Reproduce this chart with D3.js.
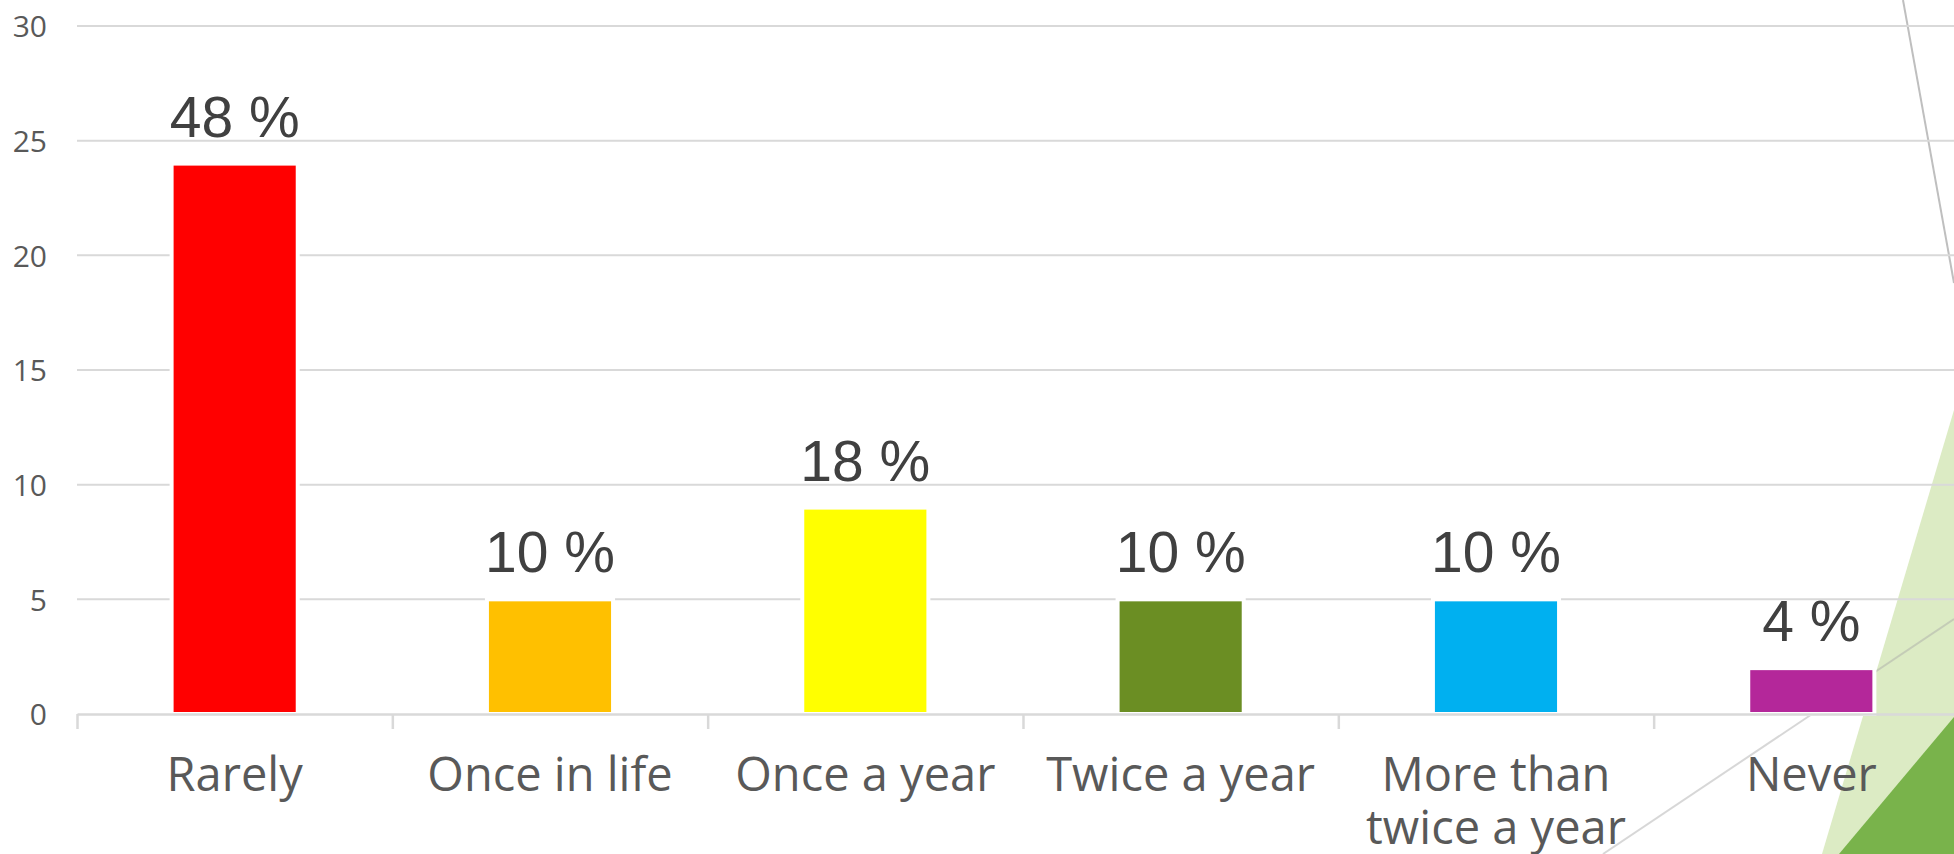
<!DOCTYPE html>
<html>
<head>
<meta charset="utf-8">
<script src="https://cdn.jsdelivr.net/npm/d3@7"></script>
<style>
  html, body { margin: 0; padding: 0; background: #ffffff; overflow: hidden; }
  svg { display: block; }
</style>
</head>
<body>
<svg id="chart" width="1954" height="854"></svg>
<script>
// ---- data ----
const categories = ["Rarely", "Once in life", "Once a year", "Twice a year", "More than twice a year", "Never"];
const categoryLabelLines = [["Rarely"], ["Once in life"], ["Once a year"], ["Twice a year"], ["More than", "twice a year"], ["Never"]];
const values = [24, 5, 9, 5, 5, 2];
const percentLabels = ["48 %", "10 %", "18 %", "10 %", "10 %", "4 %"];
const barColors = ["#ff0000", "#ffc000", "#ffff00", "#6b8e23", "#00b0f0", "#b4279a"];
const yTicks = [0, 5, 10, 15, 20, 25, 30];

// ---- layout ----
const W = 1954, H = 854;
const plotLeft = 77, step = 315.33, plotTop = 26, plotBottom = 714;
const svg = d3.select("#chart");

const x = d3.scaleBand().domain(categories)
  .range([plotLeft, plotLeft + step * categories.length])
  .paddingInner(0.6).paddingOuter(0.3);
const y = d3.scaleLinear().domain([0, 30]).range([plotBottom, plotTop]);

// ---- background decorations (slide theme) ----
const deco = svg.append("g");
deco.append("polygon").attr("points", "1954,410 1954,854 1822,854").attr("fill", "#dcebc4");
deco.append("polygon").attr("points", "1954,717 1954,854 1839,854").attr("fill", "#79b34b");
deco.append("line").attr("x1", 1603).attr("y1", 854).attr("x2", 1954).attr("y2", 619)
  .attr("stroke", "#a6a6a6").attr("stroke-opacity", 0.45).attr("stroke-width", 2);
deco.append("line").attr("x1", 1903).attr("y1", 0).attr("x2", 1954).attr("y2", 283)
  .attr("stroke", "#bfbfbf").attr("stroke-width", 2);

// ---- gridlines ----
const grid = svg.append("g");
grid.selectAll("line").data(yTicks.filter(d => d > 0)).join("line")
  .attr("x1", plotLeft).attr("x2", W + 20)
  .attr("y1", d => y(d)).attr("y2", d => y(d))
  .attr("stroke", "#d9d9d9").attr("stroke-width", 2);

// ---- y axis labels ----
const yAxis = d3.axisLeft(y).tickValues(yTicks).tickSize(0).tickPadding(0);
const yg = svg.append("g").attr("transform", "translate(47,0)").call(yAxis);
yg.select(".domain").remove();
yg.selectAll("text")
  .attr("font-family", "'Open Sans', 'Noto Sans', sans-serif")
  .attr("font-size", 30).attr("fill", "#595959").attr("dy", "0.36em");

// ---- bars ----
svg.append("g").selectAll("rect").data(values).join("rect")
  .attr("x", (d, i) => x(categories[i]))
  .attr("width", x.bandwidth())
  .attr("y", d => y(d))
  .attr("height", d => y(0) - y(d))
  .attr("fill", (d, i) => barColors[i])
  .attr("stroke", "#ffffff").attr("stroke-width", 4);

// ---- x axis ----
const xAxisScale = d3.scaleLinear().domain([0, categories.length])
  .range([plotLeft, plotLeft + step * categories.length]);
const xAxis = d3.axisBottom(xAxisScale).tickValues(d3.range(0, categories.length + 1))
  .tickSize(15).tickSizeOuter(0).tickFormat("");
const xg = svg.append("g").attr("transform", `translate(0,${plotBottom})`).call(xAxis);
xg.select(".domain").attr("stroke", "#d9d9d9").attr("stroke-width", 2.5);
xg.selectAll(".tick line").attr("stroke", "#d9d9d9").attr("stroke-width", 2.5);

// ---- category labels ----
const catG = svg.append("g");
categoryLabelLines.forEach((lines, i) => {
  const t = catG.append("text")
    .attr("x", x(categories[i]) + x.bandwidth() / 2)
    .attr("y", 791)
    .attr("text-anchor", "middle")
    .attr("font-family", "'Open Sans', 'Noto Sans', sans-serif")
    .attr("font-size", 47).attr("fill", "#595959");
  lines.forEach((ln, j) => {
    t.append("tspan").attr("x", x(categories[i]) + x.bandwidth() / 2)
      .attr("dy", j === 0 ? 0 : 53).text(ln);
  });
});

// ---- data labels ----
svg.append("g").selectAll("text").data(values).join("text")
  .attr("x", (d, i) => x(categories[i]) + x.bandwidth() / 2)
  .attr("y", d => y(d) - 27)
  .attr("text-anchor", "middle")
  .attr("font-family", "'Liberation Sans', Arial, sans-serif")
  .attr("font-size", 57).attr("fill", "#404040")
  .text((d, i) => percentLabels[i]);
</script>
</body>
</html>
